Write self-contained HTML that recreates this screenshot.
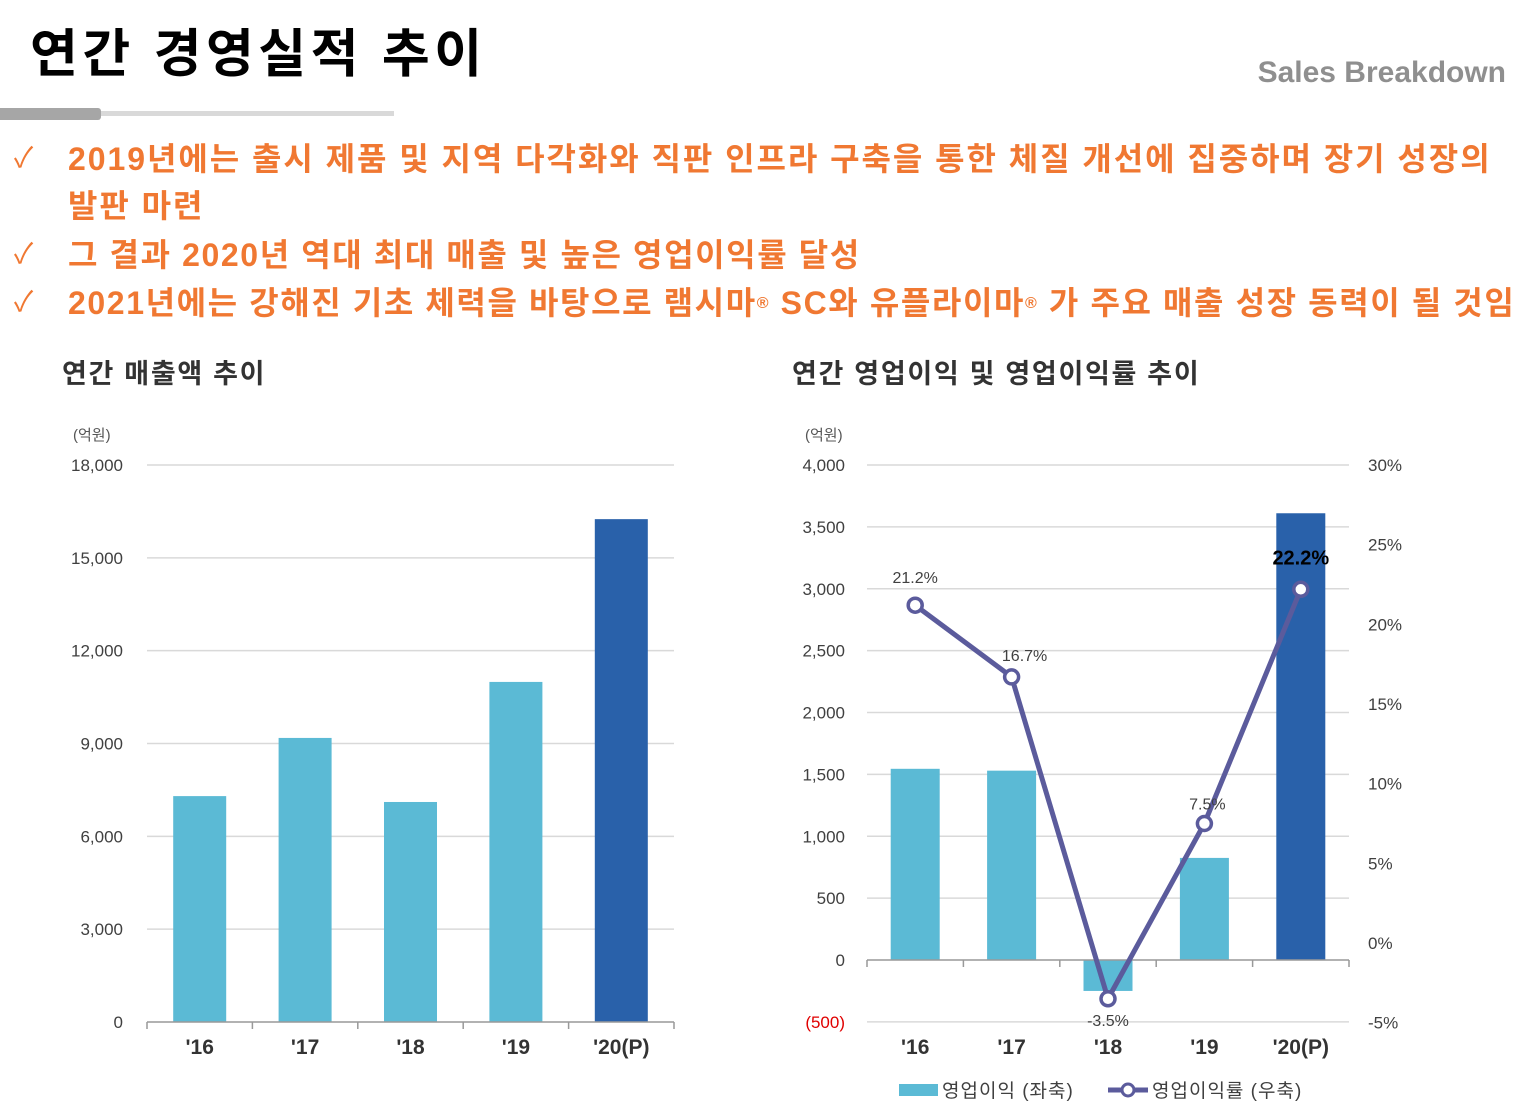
<!DOCTYPE html>
<html><head><meta charset="utf-8">
<style>
body{margin:0;width:1532px;height:1112px;background:#fff;position:relative;overflow:hidden;font-family:"Liberation Sans","Noto Sans CJK KR",sans-serif}
.abs{position:absolute;white-space:nowrap}
.title{left:30px;top:12px;font-size:52px;font-weight:bold;color:#000;letter-spacing:4.5px}
.sub{right:26px;top:56px;font-size:30px;font-weight:bold;color:#8f8f8f}
.bul{font-size:32px;font-weight:bold;color:#f07832;letter-spacing:1.95px}
.chk{font-size:28px;color:#f07832}
.ct{font-size:27px;font-weight:bold;color:#333;letter-spacing:1.7px}
svg text{font-family:"Liberation Sans","Noto Sans CJK KR",sans-serif}
</style></head>
<body>
<div class="abs title">연간 경영실적 추이</div>
<div class="abs sub">Sales Breakdown</div>
<div class="abs" style="left:0;top:108px;width:101px;height:12px;background:#a6a6a6;border-radius:0 3px 3px 0"></div>
<div class="abs" style="left:101px;top:111px;width:293px;height:5px;background:#d9d9d9"></div>

<div class="abs chk" style="left:14px;top:136px">✓</div>
<div class="abs bul" style="left:68px;top:134px">2019년에는 출시 제품 및 지역 다각화와 직판 인프라 구축을 통한 체질 개선에 집중하며 장기 성장의</div>
<div class="abs bul" style="left:68px;top:181px">발판 마련</div>
<div class="abs chk" style="left:14px;top:232px">✓</div>
<div class="abs bul" style="left:68px;top:230px;letter-spacing:1.6px">그 결과 2020년 역대 최대 매출 및 높은 영업이익률 달성</div>
<div class="abs chk" style="left:14px;top:280px">✓</div>
<div class="abs bul" style="left:68px;top:278px;letter-spacing:1.6px">2021년에는 강해진 기초 체력을 바탕으로 램시마<span style="font-size:16px;vertical-align:6px">®</span> SC와 유플라이마<span style="font-size:16px;vertical-align:6px">®</span> 가 주요 매출 성장 동력이 될 것임</div>

<div class="abs ct" style="left:62px;top:352px">연간 매출액 추이</div>
<div class="abs ct" style="left:792px;top:352px">연간 영업이익 및 영업이익률 추이</div>

<svg id="chart" width="1532" height="1112" style="position:absolute;left:0;top:0"></svg>

<script>
const categories=["'16","'17","'18","'19","'20(P)"];
const salesValues=[7300,9180,7110,10990,16250];
const salesTicks=[0,3000,6000,9000,12000,15000,18000];
const profitValues=[1545,1530,-250,825,3610];
const profitTicks=[-500,0,500,1000,1500,2000,2500,3000,3500,4000];
const marginValues=[21.2,16.7,-3.5,7.5,22.2];
const marginLabels=["21.2%","16.7%","-3.5%","7.5%","22.2%"];
const marginTicks=[-5,0,5,10,15,20,25,30];

const svg=document.getElementById('chart');
const NS='http://www.w3.org/2000/svg';
function mk(tag,attrs,text){const e=document.createElementNS(NS,tag);for(const k in attrs)e.setAttribute(k,attrs[k]);if(text!==undefined)e.textContent=text;svg.appendChild(e);return e;}
function fmt(v){return v<0?'('+Math.abs(v).toLocaleString('en-US')+')':v.toLocaleString('en-US');}

// Left chart
const L={x0:147,x1:674,yTop:465,yBot:1022,max:18000};
const ly=v=>L.yBot-(v/L.max)*(L.yBot-L.yTop);
const lstep=(L.x1-L.x0)/categories.length;
const lx=i=>L.x0+lstep*(i+0.5);
let t=mk('text',{x:73,y:440,'font-size':15,fill:'#555'},'(억원)');


salesTicks.forEach(v=>{
  if(v>0){const g=mk('line',{x1:L.x0,x2:L.x1,y1:ly(v),y2:ly(v),stroke:'#d9d9d9','stroke-width':1.5});
  
  }
  const tx=mk('text',{x:123,y:ly(v)+6,'text-anchor':'end','font-size':17,fill:'#404040'},fmt(v));
  
  
});
salesValues.forEach((v,i)=>{
  const b=mk('rect',{x:lx(i)-26.5,y:ly(v),width:53,height:ly(0)-ly(v),fill:i===4?'#2961aa':'#5bbad5'});
  
  
  const c=mk('text',{x:lx(i),y:1054,'text-anchor':'middle','font-size':21,'font-weight':'bold',fill:'#333'},categories[i]);
  
  
});
let ax=mk('line',{x1:L.x0,x2:L.x1,y1:L.yBot,y2:L.yBot,stroke:'#999','stroke-width':1.5});


for(let i=0;i<=categories.length;i++){const tk=mk('line',{x1:L.x0+lstep*i,x2:L.x0+lstep*i,y1:L.yBot,y2:L.yBot+7,stroke:'#999','stroke-width':1.5});

}

// Right chart
const R={x0:867,x1:1349,y4000:465,y0:960};
const ry=v=>R.y0-(v/4000)*(R.y0-R.y4000);
const my=p=>943-p*(943-465)/30;
const rstep=(R.x1-R.x0)/categories.length;
const rx=i=>R.x0+rstep*(i+0.5);
t=mk('text',{x:805,y:440,'font-size':15,fill:'#555'},'(억원)');


profitTicks.forEach(v=>{
  if(v!==0){const g=mk('line',{x1:R.x0,x2:R.x1,y1:ry(v),y2:ry(v),stroke:'#d9d9d9','stroke-width':1.5});
  
  }
  const tx=mk('text',{x:845,y:ry(v)+6,'text-anchor':'end','font-size':17,fill:v<0?'#e00000':'#404040'},fmt(v));
  
  
});
marginTicks.forEach(p=>{
  const tx=mk('text',{x:1368,y:my(p)+6,'font-size':17,fill:'#404040'},p+'%');
  
  
});
profitValues.forEach((v,i)=>{
  const top=Math.min(ry(v),ry(0)),h=Math.abs(ry(v)-ry(0));
  const b=mk('rect',{x:rx(i)-24.5,y:top,width:49,height:h,fill:i===4?'#2961aa':'#5bbad5'});
  
  
  const c=mk('text',{x:rx(i),y:1054,'text-anchor':'middle','font-size':21,'font-weight':'bold',fill:'#333'},categories[i]);
  
  
});
ax=mk('line',{x1:R.x0,x2:R.x1,y1:ry(0),y2:ry(0),stroke:'#999','stroke-width':1.5});


for(let i=0;i<=categories.length;i++){const tk=mk('line',{x1:R.x0+rstep*i,x2:R.x0+rstep*i,y1:ry(0),y2:ry(0)+7,stroke:'#999','stroke-width':1.5});

}
const pts=marginValues.map((p,i)=>rx(i)+','+my(p)).join(' ');
const pl=mk('polyline',{points:pts,fill:'none',stroke:'#5b5b9c','stroke-width':5,'stroke-linejoin':'round'});


marginValues.forEach((p,i)=>{
  const c=mk('circle',{cx:rx(i),cy:my(p),r:7,fill:'#fff',stroke:'#5b5b9c','stroke-width':3.5});
  
  
  const off=[-22,-16,27,-14,-25][i], dx=[0,13,0,3,0][i];
  const lb=mk('text',{x:rx(i)+dx,y:my(p)+off,'text-anchor':'middle','font-size':i===4?20:16,'font-weight':i===4?'bold':'normal',fill:i===4?'#000':'#404040'},marginLabels[i]);
  
  
});
// legend
let lg=mk('rect',{x:899,y:1084,width:39,height:12,fill:'#5bbad5'});


lg=mk('text',{x:942,y:1097,'font-size':19,fill:'#404040','letter-spacing':1},'영업이익 (좌축)');


lg=mk('line',{x1:1108,x2:1148,y1:1090,y2:1090,stroke:'#5b5b9c','stroke-width':5});


lg=mk('circle',{cx:1128,cy:1090,r:6,fill:'#fff',stroke:'#5b5b9c','stroke-width':3});


lg=mk('text',{x:1152,y:1097,'font-size':19,fill:'#404040','letter-spacing':1},'영업이익률 (우축)');


</script>
</body></html>
